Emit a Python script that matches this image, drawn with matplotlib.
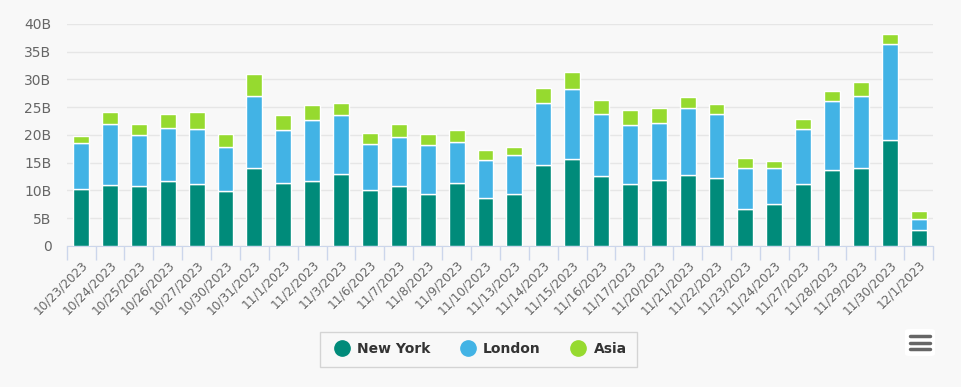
import matplotlib.pyplot as plt
import numpy as np
from matplotlib.lines import Line2D
from matplotlib.patches import FancyBboxPatch

# dates on the x axis
dates = ['10/23/2023', '10/24/2023', '10/25/2023', '10/26/2023', '10/27/2023',
         '10/30/2023', '10/31/2023', '11/1/2023', '11/2/2023', '11/3/2023',
         '11/6/2023', '11/7/2023', '11/8/2023', '11/9/2023', '11/10/2023',
         '11/13/2023', '11/14/2023', '11/15/2023', '11/16/2023', '11/17/2023',
         '11/20/2023', '11/21/2023', '11/22/2023', '11/23/2023', '11/24/2023',
         '11/27/2023', '11/28/2023', '11/29/2023', '11/30/2023', '12/1/2023']

# stack segment values, in billions
new_york = [10.2, 10.9, 10.7, 11.6, 11.2, 9.8, 14.1, 11.4, 11.6, 13.0,
            10.0, 10.7, 9.4, 11.4, 8.6, 9.4, 14.5, 15.6, 12.6, 11.2,
            11.85, 12.75, 12.3, 6.7, 7.6, 11.2, 13.65, 14.1, 19.1, 2.8]
london = [8.4, 11.1, 9.2, 9.7, 9.85, 8.1, 13.0, 9.4, 11.0, 10.5,
          8.35, 9.0, 8.7, 7.4, 6.8, 6.9, 11.3, 12.7, 11.2, 10.5,
          10.25, 12.15, 11.5, 7.4, 6.5, 9.85, 12.4, 13.0, 17.3, 2.0]
asia = [1.25, 2.2, 2.1, 2.5, 3.15, 2.25, 3.9, 2.7, 2.7, 2.2,
        1.95, 2.3, 2.05, 2.0, 1.8, 1.6, 2.65, 3.1, 2.4, 2.7,
        2.7, 2.0, 1.8, 1.8, 1.1, 1.85, 1.95, 2.5, 1.8, 1.4]

series_names = ['New York', 'London', 'Asia']
colors = ['#008b7a', '#42b3e5', '#96da2f']
bg = '#f8f8f8'

plt.rcParams['font.family'] = 'DejaVu Sans'

fig = plt.figure(figsize=(9.62, 3.87), dpi=100, facecolor=bg)
ax = fig.add_axes([0.0693, 0.365, 0.9007, 0.573], facecolor=bg)

x = np.arange(len(dates))
bottom = np.zeros(len(dates))
for vals, c in zip([new_york, london, asia], colors):
    ax.bar(x, vals, width=0.55, bottom=bottom, color=c, edgecolor='white',
           linewidth=1, zorder=3)
    bottom += np.array(vals)

ax.set_xlim(-0.5, len(dates) - 0.5)
ax.set_ylim(0, 40)
ax.set_yticks(np.arange(0, 41, 5))
ax.set_yticklabels(['0'] + [f'{v}B' for v in range(5, 41, 5)])
ax.yaxis.grid(True, color='#e6e6e6', linewidth=1, zorder=0)
ax.tick_params(axis='y', length=0, labelsize=10, labelcolor='#666666', pad=11)

# category boundary ticks like highcharts
ax.set_xticks(np.arange(-0.5, len(dates), 1), minor=True)
ax.tick_params(axis='x', which='minor', length=10, color='#ccd6eb', width=1)
ax.set_xticks(x)
ax.set_xticklabels(dates, rotation=45, ha='right', rotation_mode='anchor')
ax.tick_params(axis='x', which='major', length=0, labelsize=8.7,
               labelcolor='#666666', pad=9)

for s in ['top', 'right', 'left']:
    ax.spines[s].set_visible(False)
ax.spines['bottom'].set_color('#ccd6eb')

handles = [Line2D([], [], marker='o', linestyle='', markersize=11,
                  markerfacecolor=c, markeredgecolor=c) for c in colors]
leg = fig.legend(handles, series_names, loc='center', ncol=3,
                 bbox_to_anchor=(0.4975, 0.0975), frameon=True,
                 prop={'weight': 'bold', 'size': 10}, handletextpad=0.3,
                 handlelength=1.6, columnspacing=1.9, borderpad=0.75,
                 borderaxespad=0, fancybox=False)
leg.get_frame().set_edgecolor('#cccccc')
leg.get_frame().set_facecolor(bg)
for t in leg.get_texts():
    t.set_color('#333333')

# context menu button
W, H = 962, 387
fig.patches.append(FancyBboxPatch((905 / W, 1 - 356 / H), 30 / W, 27 / H,
                                  boxstyle='round,pad=0,rounding_size=0.005',
                                  transform=fig.transFigure, facecolor='white',
                                  edgecolor='none'))
for yy in [336, 342.5, 349]:
    fig.add_artist(Line2D([910 / W, 930 / W], [1 - yy / H, 1 - yy / H],
                          transform=fig.transFigure, color='#666666',
                          linewidth=2.5, solid_capstyle='round'))

fig.savefig('out.png', dpi=100, facecolor=bg)
